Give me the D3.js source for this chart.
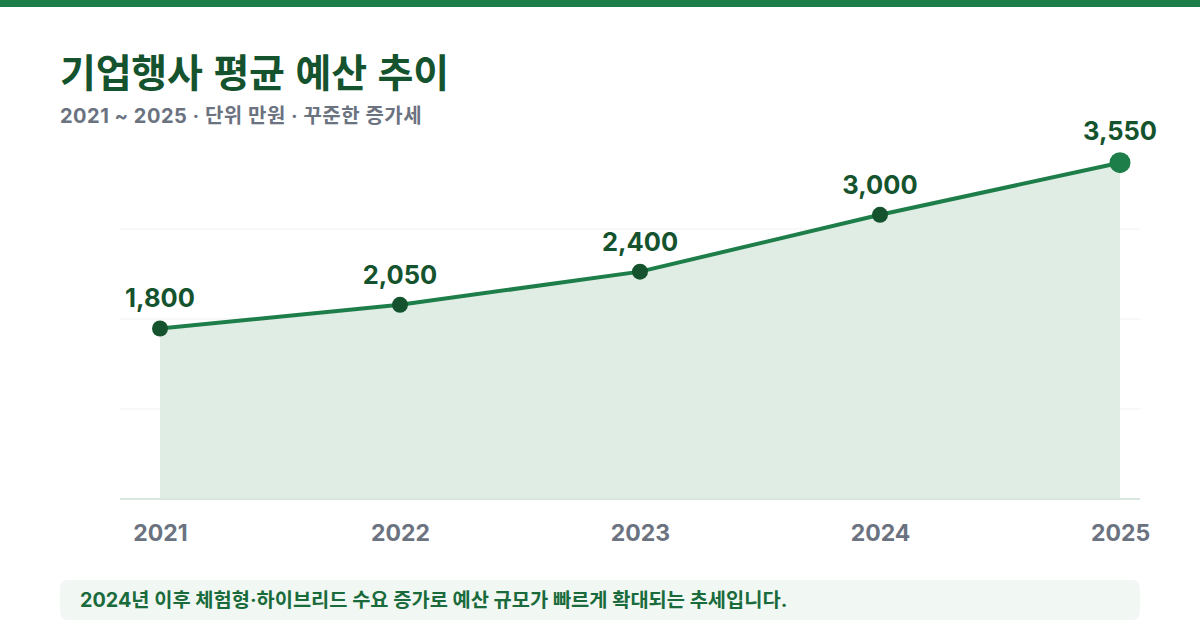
<!DOCTYPE html>
<html lang="ko">
<head>
<meta charset="utf-8">
<script src="https://cdn.jsdelivr.net/npm/d3@7"></script>
<style>
  html, body { margin: 0; padding: 0; background: #ffffff; }
  svg { display: block; font-family: "Inter", "Noto Sans CJK KR", "Noto Sans", sans-serif; }
</style>
</head>
<body>
<svg id="chart" width="1200" height="640"></svg>
<script>
// ---- data ----
const years = ["2021", "2022", "2023", "2024", "2025"];
const budgets = [1800, 2050, 2400, 3000, 3550];
const yMax = 3800;
const gridFractions = [0.25, 0.5, 0.75];

const title = "기업행사 평균 예산 추이";
const subtitle = "2021 ~ 2025 · 단위 만원 · 꾸준한 증가세";
const note = "2024년 이후 체험형·하이브리드 수요 증가로 예산 규모가 빠르게 확대되는 추세입니다.";

// ---- layout ----
const W = 1200, H = 640;
const plot = { left: 120, right: 1140, top: 139, bottom: 499 };
const svg = d3.select("#chart");

const data = years.map((y, i) => ({ year: y, value: budgets[i] }));

const x = d3.scalePoint().domain(years).range([plot.left + 40, plot.right - 20]).padding(0);
const y = d3.scaleLinear().domain([0, yMax]).range([plot.bottom, plot.top]);

// top bar
svg.append("rect").attr("x", 0).attr("y", 0).attr("width", W).attr("height", 7).attr("fill", "#1e7e4a");

// title & subtitle
svg.append("text").attr("x", 60).attr("y", 87)
  .attr("font-size", 39).attr("font-weight", 700).attr("fill", "#14532d")
  .attr("font-family", "'Noto Sans CJK KR', sans-serif")
  .attr("letter-spacing", -0.2)
  .text(title);
svg.append("text").attr("x", 60).attr("y", 123)
  .attr("font-size", 20).attr("font-weight", 700).attr("fill", "#6b7280")
  .attr("letter-spacing", 0.5)
  .text(subtitle);

// gridlines
svg.append("g").selectAll("line").data(gridFractions.map(f => f * yMax)).join("line")
  .attr("x1", plot.left).attr("x2", plot.right)
  .attr("y1", d => y(d)).attr("y2", d => y(d))
  .attr("stroke", "#eef3f0").attr("stroke-width", 1);

// area
const area = d3.area().x(d => x(d.year)).y0(y(0)).y1(d => y(d.value));
svg.append("path").datum(data).attr("d", area).attr("fill", "#e0ede5");

// axis line
svg.append("line").attr("x1", plot.left).attr("x2", plot.right)
  .attr("y1", y(0)).attr("y2", y(0))
  .attr("stroke", "#d8e6dd").attr("stroke-width", 2);

// x axis labels
const xAxis = d3.axisBottom(x).tickSize(0).tickPadding(0);
const gx = svg.append("g").attr("transform", `translate(0,${y(0)})`).call(xAxis);
gx.select(".domain").remove();
gx.selectAll("text")
  .attr("dy", 0).attr("y", 41.5)
  .attr("font-size", 23).attr("font-weight", 700).attr("fill", "#6b7280")
  .attr("font-family", "'Inter', 'Noto Sans CJK KR', sans-serif");

// line
const line = d3.line().x(d => x(d.year)).y(d => y(d.value));
svg.append("path").datum(data).attr("d", line)
  .attr("fill", "none").attr("stroke", "#1e7e4a").attr("stroke-width", 4)
  .attr("stroke-linejoin", "round").attr("stroke-linecap", "round");

// points
const last = data.length - 1;
svg.append("g").selectAll("circle").data(data).join("circle")
  .attr("cx", d => x(d.year)).attr("cy", d => y(d.value))
  .attr("r", (d, i) => i === last ? 10.5 : 8)
  .attr("fill", (d, i) => i === last ? "#1e7e4a" : "#14532d");

// value labels
const fmt = d3.format(",");
svg.append("g").selectAll("text").data(data).join("text")
  .attr("x", d => x(d.year)).attr("y", (d, i) => y(d.value) - (i === last ? 23 : 21))
  .attr("text-anchor", "middle")
  .attr("font-size", 25.5).attr("font-weight", 700).attr("fill", "#14532d")
  .text(d => fmt(d.value));

// note box
svg.append("rect").attr("x", 60).attr("y", 580).attr("width", 1080).attr("height", 40)
  .attr("rx", 8).attr("fill", "#f1f8f3");
svg.append("text").attr("x", 80).attr("y", 606.5)
  .attr("font-size", 19.8).attr("font-weight", 700).attr("fill", "#1a6b3c")
  .text(note);
</script>
</body>
</html>
